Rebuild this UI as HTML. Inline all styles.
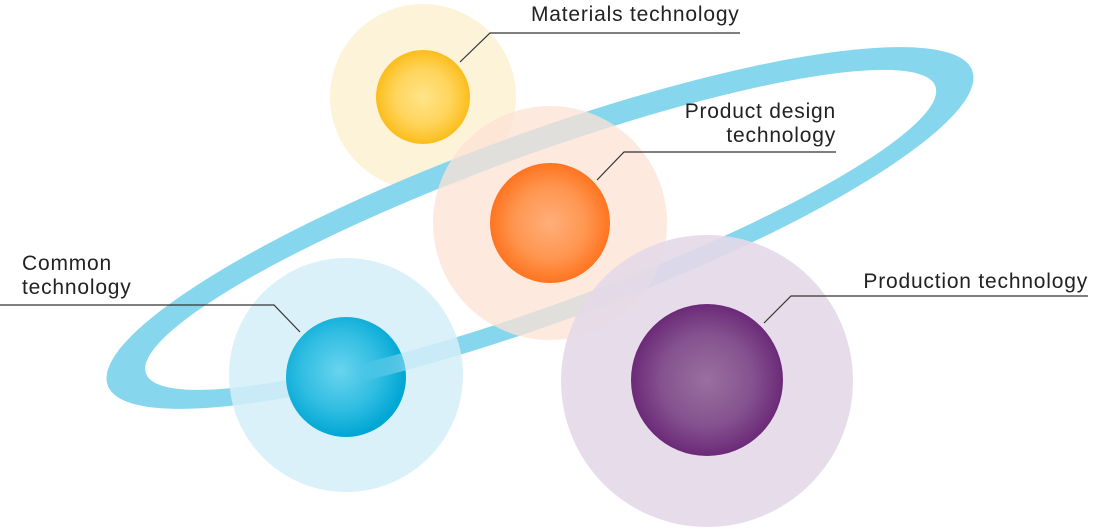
<!DOCTYPE html>
<html><head><meta charset="utf-8"><style>
html,body{margin:0;padding:0;background:#fff;}
svg{display:block;}
text{font-family:"Liberation Sans",sans-serif;font-size:21px;letter-spacing:0.8px;fill:#222;}
</style></head><body>
<svg width="1100" height="530" viewBox="0 0 1100 530" xmlns="http://www.w3.org/2000/svg">
<defs>
<radialGradient id="gy" cx="50%" cy="50%" r="50%"><stop offset="0" stop-color="#ffe48a"/><stop offset="0.6" stop-color="#ffd45a"/><stop offset="1" stop-color="#fbbd1c"/></radialGradient>
<radialGradient id="go" cx="50%" cy="50%" r="50%"><stop offset="0" stop-color="#ffae7a"/><stop offset="0.6" stop-color="#ff9650"/><stop offset="1" stop-color="#ff7420"/></radialGradient>
<radialGradient id="gb" cx="45%" cy="45%" r="55%"><stop offset="0" stop-color="#6ad4ee"/><stop offset="0.6" stop-color="#2fbde2"/><stop offset="1" stop-color="#00a6d4"/></radialGradient>
<radialGradient id="gp" cx="50%" cy="50%" r="50%"><stop offset="0" stop-color="#9a709f"/><stop offset="0.6" stop-color="#85528f"/><stop offset="1" stop-color="#6b2a78"/></radialGradient>
<linearGradient id="fade" x1="360" y1="0" x2="420" y2="0" gradientUnits="userSpaceOnUse"><stop offset="0" stop-color="#fff" stop-opacity="0"/><stop offset="1" stop-color="#fff" stop-opacity="1"/></linearGradient>
<mask id="m"><rect x="0" y="0" width="1100" height="530" fill="url(#fade)"/></mask>
<clipPath id="cb"><circle cx="346" cy="377" r="60"/></clipPath>
</defs>
<circle cx="423" cy="97" r="93" fill="#fdf1d2" opacity="0.85"/>
<g transform="rotate(-20 540 228)">
<path fill-rule="evenodd" fill="#86d6ed" d="M80,228 a460,95 0 1,0 920,0 a460,95 0 1,0 -920,0 Z M120,230 a420,75 0 1,0 840,0 a420,75 0 1,0 -840,0 Z"/>
</g>
<circle cx="550" cy="223" r="117" fill="#fde2d4" opacity="0.75"/>
<circle cx="346" cy="375" r="117" fill="#d3eef8" opacity="0.85"/>
<circle cx="707" cy="381" r="146" fill="#e4d9e8" opacity="0.9"/>
<circle cx="423" cy="97" r="47" fill="url(#gy)"/>
<circle cx="550" cy="223" r="60" fill="url(#go)"/>
<circle cx="346" cy="377" r="60" fill="url(#gb)"/>
<g clip-path="url(#cb)" mask="url(#m)">
<g transform="rotate(-20 540 228)">
<path fill-rule="evenodd" fill="#7fd4ec" d="M80,228 a460,95 0 1,0 920,0 a460,95 0 1,0 -920,0 Z M120,230 a420,75 0 1,0 840,0 a420,75 0 1,0 -840,0 Z"/>
</g></g>
<circle cx="707" cy="380" r="76" fill="url(#gp)"/>
<g stroke="#333" stroke-width="1.2" fill="none">
<polyline points="460,62 490,33 740,33"/>
<polyline points="597,180 624,152 836,152"/>
<polyline points="300,332 274,305 0,305"/>
<polyline points="764,323 791,296 1088,296"/>
</g>
<text x="531" y="21">Materials technology</text>
<text x="836" y="118" text-anchor="end">Product design</text>
<text x="836" y="142" text-anchor="end">technology</text>
<text x="22" y="270">Common</text>
<text x="22" y="294">technology</text>
<text x="1088" y="288" text-anchor="end">Production technology</text>
</svg>
</body></html>
